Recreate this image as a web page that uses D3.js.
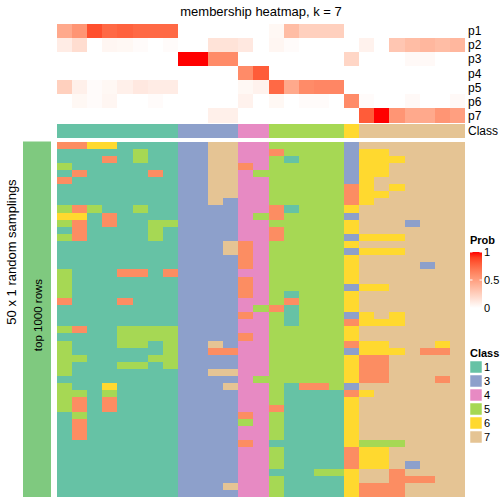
<!DOCTYPE html>
<html>
<head>
<meta charset="utf-8">
<script src="https://cdn.jsdelivr.net/npm/d3@7"></script>
<style>
  html, body { margin: 0; padding: 0; background: #fff; }
  svg { display: block; font-family: "Liberation Sans", Arial, Helvetica, sans-serif; }
</style>
</head>
<body>
<svg id="chart" width="504" height="504"></svg>
<script>
// ---------------- data ----------------
const probRows = ["p1", "p2", "p3", "p4", "p5", "p6", "p7"];
const p1 = [0.45,0.55,0.85,0.75,0.78,0.75,0.75,0.75, 0,0,0,0, 0,0, 0.04,0.35,0.25,0.25,0.25, 0, 0,0,0,0,0,0,0];
const p2 = [0.10,0.18,0,0.05,0.04,0.02,0,0.02, 0,0,0.15,0.15, 0.12,0, 0.05,0.02,0,0,0, 0, 0.07,0,0.30,0.35,0.38,0.35,0.38];
const p3 = [0,0,0,0,0,0,0,0, 1,1,0.6,0.6, 0,0, 0,0,0,0,0, 0.22, 0,0,0,0.03,0.03,0,0];
const p4 = [0,0,0,0,0,0,0,0, 0,0,0,0, 0.6,0.8, 0,0,0,0,0, 0, 0,0,0,0,0,0,0];
const p5 = [0.25,0.08,0.02,0.04,0.08,0.12,0.10,0.10, 0,0,0,0, 0.04,0.07, 0.75,0.45,0.6,0.62,0.62, 0, 0,0,0,0,0,0,0];
const p6 = [0,0.04,0.02,0.05,0,0,0.02,0, 0,0,0,0, 0.07,0, 0.04,0,0.02,0.02,0, 0.6, 0.02,0,0,0.03,0,0,0.03];
const p7 = [0,0,0,0,0,0,0,0, 0,0,0.08,0.08, 0,0, 0,0,0,0,0, 0, 0.8,1.0,0.55,0.45,0.45,0.55,0.5];
const membership = [p1, p2, p3, p4, p5, p6, p7];

const consensusClass = [1,1,1,1,1,1,1,1, 3,3,3,3, 4,4, 5,5,5,5,5, 6, 7,7,7,7,7,7,7];

// 50 random samplings: class of each of the 27 columns (one digit per column)
const samplings = [
  "226611113377445555537777777",
  "111115113377442555536677777",
  "111215113377445155536667777",
  "511111113377245555536677777",
  "121111213377455555536677777",
  "211111113377445555536777777",
  "111111113377445555526767777",
  "111111113377445555526677777",
  "111111113373445555526777777",
  "525115113333442155567777777",
  "661211113333452555537777777",
  "521211553333445555567773777",
  "121111513333442555567777777",
  "521111513333442555536667777",
  "111111113337245555567777777",
  "111111113337245555536667777",
  "111111113333245555567777777",
  "111111113333245555567777377",
  "511122123333445555567777777",
  "511111113333245555567777777",
  "511111113333245555536677777",
  "511111113333245155567777777",
  "211121113333445255567777777",
  "111111113333452155567777777",
  "111111113333245155536767777",
  "111111113333445155526667777",
  "521155553333445555567777777",
  "111155553333245555567777777",
  "511155153373445555526677767",
  "511111153322445555536667227",
  "551111553333445555562277777",
  "511155153333445555562277777",
  "511111113377445555562277777",
  "111111113333455555562277727",
  "511611113337445122537777777",
  "551511113333445111126777777",
  "521211113333445111167777777",
  "521211113333442111167777777",
  "151111113333245111167777777",
  "121111113333545111167777777",
  "121111113333445111167777777",
  "121111113333445111167777777",
  "111111113333241111165557777",
  "111111113333445111126677777",
  "111111113333445111126677777",
  "111111113333445111126673777",
  "111111113333441115567727777",
  "111111113333445111167722277",
  "111111113337445111162227777",
  "111111113333445111162227777"
];

const classColors = {1:"#66C2A5", 2:"#FC8D62", 3:"#8DA0CB", 4:"#E78AC3", 5:"#A6D854", 6:"#FFD92F", 7:"#E5C494"};
const legendClasses = [1, 3, 4, 5, 6, 7];
const probTicks = [0, 0.5, 1];

// ---------------- drawing ----------------
const svg = d3.select("#chart");
const nCol = consensusClass.length;
const x = d3.scaleBand().domain(d3.range(nCol)).range([57, 465]);
const yTop = d3.scaleBand().domain(probRows).range([24, 122.5]);
const yBot = d3.scaleBand().domain(d3.range(samplings.length)).range([141.5, 497]);
const probColor = d3.scaleLinear().domain([0, 1]).range(["#ffffff", "#ff0000"]).interpolate(d3.interpolateLab);

// title
svg.append("text").attr("x", 261).attr("y", 16).attr("text-anchor", "middle")
  .attr("font-size", 13).text("membership heatmap, k = 7");

// membership heatmap
const gTop = svg.append("g").attr("shape-rendering", "crispEdges");
membership.forEach((vals, ri) => {
  gTop.selectAll(null).data(vals).enter().append("rect")
    .attr("x", (d, i) => x(i)).attr("y", yTop(probRows[ri]))
    .attr("width", x.bandwidth() + 0.3).attr("height", yTop.bandwidth() + 0.3)
    .attr("fill", d => probColor(d));
});
// class annotation
gTop.selectAll(null).data(consensusClass).enter().append("rect")
  .attr("x", (d, i) => x(i)).attr("y", 124)
  .attr("width", x.bandwidth() + 0.3).attr("height", 13.5)
  .attr("fill", d => classColors[d]);

// row labels
const labs = probRows.map(p => ({t: p, y: yTop(p) + yTop.bandwidth() / 2})).concat([{t: "Class", y: 130.8}]);
svg.selectAll(null).data(labs).enter().append("text")
  .attr("x", 468).attr("y", d => d.y).attr("dy", "0.36em")
  .attr("font-size", 12).text(d => d.t);

// bottom heatmap
const gBot = svg.append("g").attr("shape-rendering", "crispEdges");
samplings.forEach((row, ri) => {
  const vals = row.split("").map(Number);
  gBot.selectAll(null).data(vals).enter().append("rect")
    .attr("x", (d, i) => x(i)).attr("y", yBot(ri))
    .attr("width", x.bandwidth() + 0.3).attr("height", yBot.bandwidth() + 0.3)
    .attr("fill", d => classColors[d]);
});

// left row annotation bar
svg.append("rect").attr("x", 23).attr("y", 141.5).attr("width", 28).attr("height", 355.5)
  .attr("fill", "#7FC97F");
svg.append("text").attr("transform", "translate(41.5,315) rotate(-90)")
  .attr("text-anchor", "middle").attr("font-size", 11.5).text("top 1000 rows");
svg.append("text").attr("transform", "translate(16,252) rotate(-90)")
  .attr("text-anchor", "middle").attr("font-size", 13).text("50 x 1 random samplings");

// Prob legend
const lg = svg.append("g");
lg.append("text").attr("x", 470).attr("y", 244).attr("font-size", 11).attr("font-weight", "bold").text("Prob");
const defs = svg.append("defs");
const grad = defs.append("linearGradient").attr("id", "pg").attr("x1", 0).attr("y1", 1).attr("x2", 0).attr("y2", 0);
d3.range(0, 1.0001, 0.1).forEach(t => grad.append("stop").attr("offset", t).attr("stop-color", probColor(t)));
const yLeg = d3.scaleLinear().domain([0, 1]).range([308, 252]);
lg.append("rect").attr("x", 470).attr("y", yLeg(1)).attr("width", 12).attr("height", yLeg(0) - yLeg(1)).attr("fill", "url(#pg)");
probTicks.forEach(t => {
  lg.append("line").attr("x1", 470).attr("x2", 472.5).attr("y1", yLeg(t)).attr("y2", yLeg(t)).attr("stroke", "#fff");
  lg.append("line").attr("x1", 479.5).attr("x2", 482).attr("y1", yLeg(t)).attr("y2", yLeg(t)).attr("stroke", "#fff");
  lg.append("text").attr("x", 484).attr("y", yLeg(t)).attr("dy", "0.36em").attr("font-size", 11).text(t);
});

// Class legend
lg.append("text").attr("x", 470).attr("y", 357).attr("font-size", 11).attr("font-weight", "bold").text("Class");
legendClasses.forEach((c, i) => {
  lg.append("rect").attr("x", 470).attr("y", 361 + i * 14).attr("width", 12).attr("height", 12)
    .attr("fill", classColors[c]).attr("stroke", "#fff").attr("stroke-width", 0.5);
  lg.append("text").attr("x", 484).attr("y", 367 + i * 14).attr("dy", "0.36em").attr("font-size", 11).text(c);
});
</script>
</body>
</html>
